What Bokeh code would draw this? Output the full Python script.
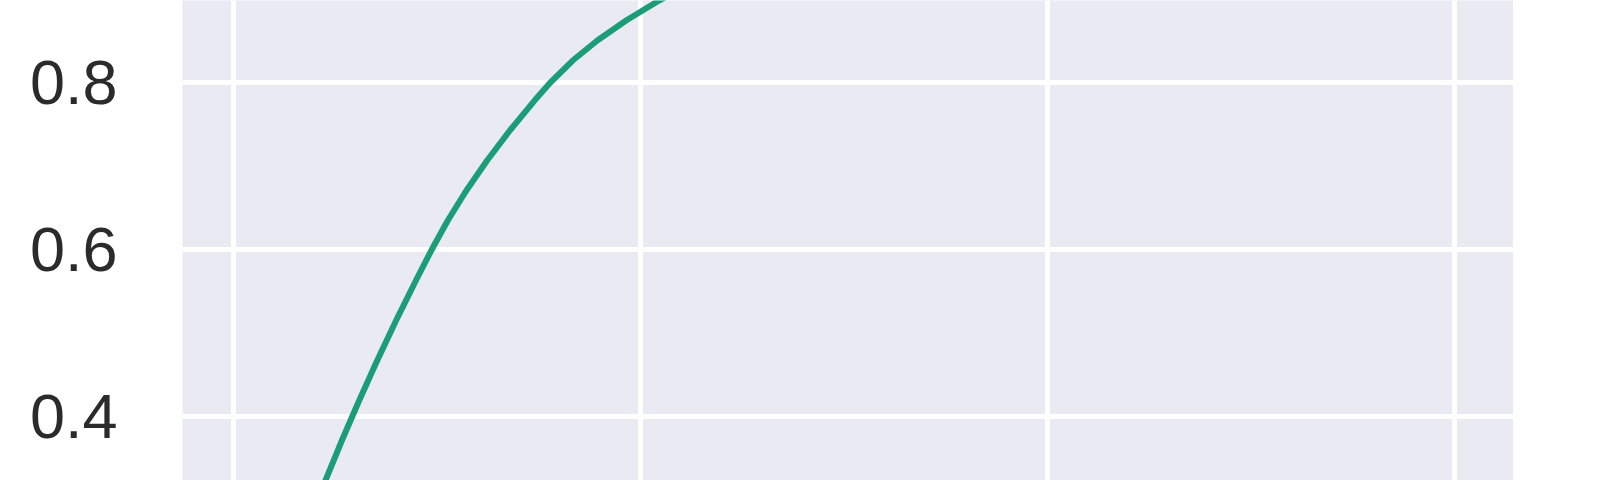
from bokeh.plotting import figure
from bokeh.models import FixedTicker, Range1d
from bokeh.embed import file_html
from bokeh.resources import INLINE

# curve values
xs = [0.189, 0.2260, 0.2663, 0.3088, 0.3531, 0.3995, 0.4482, 0.4872, 0.5265, 0.5722,
      0.6231, 0.6789, 0.7396, 0.7786, 0.8334, 0.8939, 0.9646, 1.0457, 1.140]
ys = [0.2755, 0.3234, 0.3713, 0.4192, 0.4671, 0.5150, 0.5629, 0.6000, 0.6347, 0.6707,
      0.7066, 0.7425, 0.7784, 0.8000, 0.8263, 0.8503, 0.8743, 0.8982, 0.9222]
x_ticks = [0, 1, 2, 3]
y_ticks = [0.2, 0.4, 0.6, 0.8, 1.0]

p = figure(width=1513, height=480, output_backend="svg", toolbar_location=None,
           x_range=Range1d(-0.1253, 3.145), y_range=Range1d(0.3234, 0.8982),
           min_border_left=182, min_border_right=0, min_border_top=0, min_border_bottom=0)
p.xaxis.visible = False
p.background_fill_color = "#EAEAF2"
p.border_fill_color = "white"
p.outline_line_color = None

p.xgrid.ticker = FixedTicker(ticks=x_ticks)
p.ygrid.ticker = FixedTicker(ticks=y_ticks)
p.grid.grid_line_color = "white"
p.grid.grid_line_width = 5

ax = p.yaxis[0]
ax.ticker = FixedTicker(ticks=y_ticks)
ax.axis_line_color = None
ax.major_tick_line_color = None
ax.minor_tick_line_color = None
ax.major_tick_out = 0
ax.major_tick_in = 0
ax.major_label_standoff = 65
ax.major_label_text_font = "Liberation Sans"
ax.major_label_text_font_size = "63px"
ax.major_label_text_color = "#2b2b2b"

p.line(xs, ys, line_color="#1b9e77", line_width=6, line_join="round")

open("out.html", "w").write(file_html(p, INLINE))
